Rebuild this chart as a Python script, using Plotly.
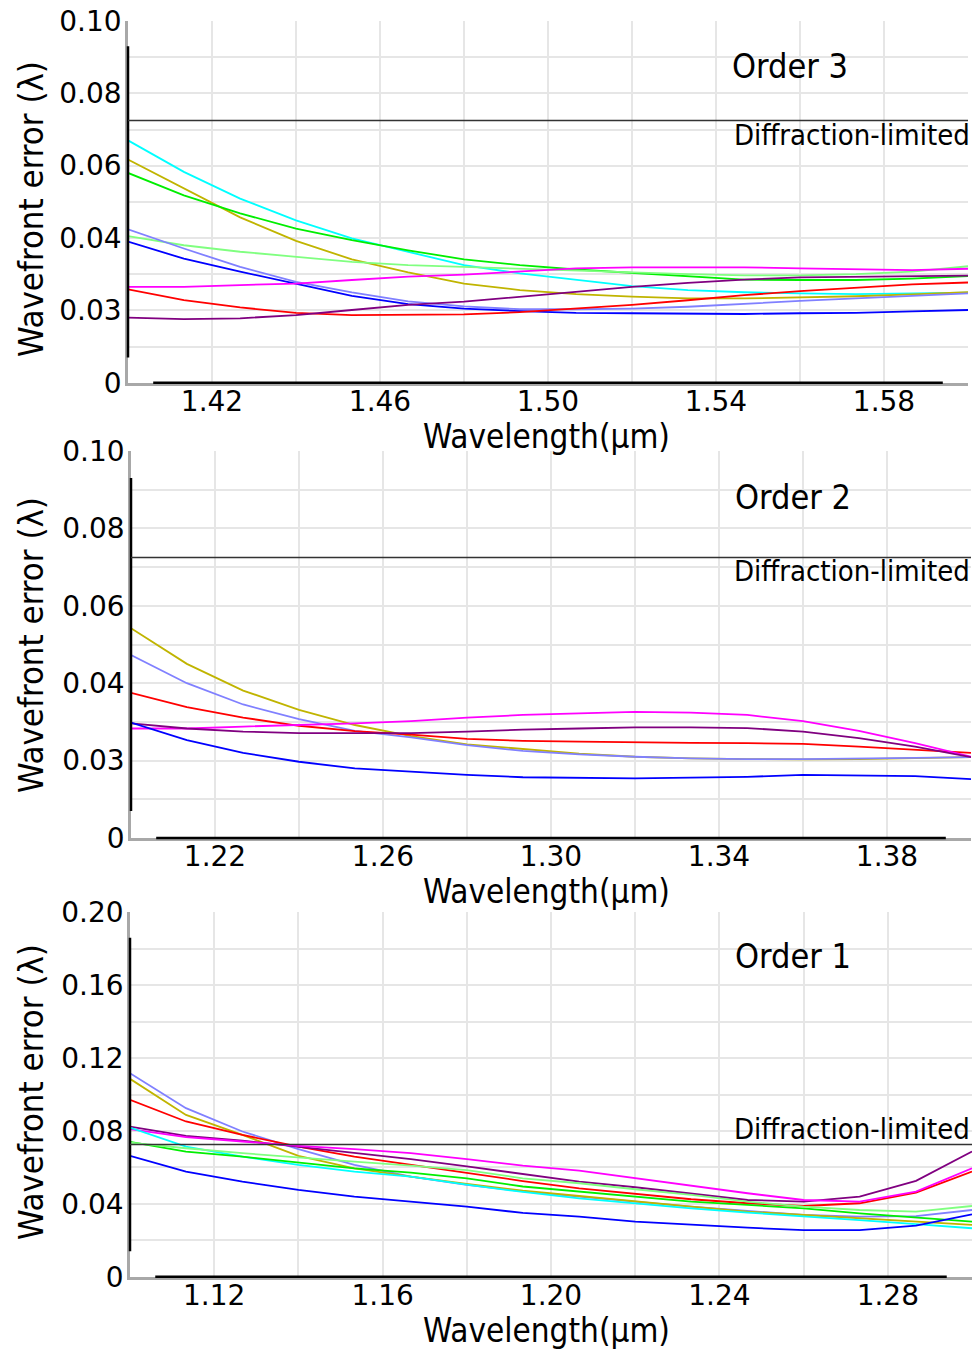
import plotly.graph_objects as go

# ---------------- data ----------------
DIFFRACTION_LIMIT = 0.0725

WL_ORDER3 = [1.4000, 1.4133, 1.4267, 1.4400, 1.4533, 1.4667, 1.4800, 1.4933,
             1.5067, 1.5200, 1.5333, 1.5467, 1.5600, 1.5733, 1.5867, 1.6000]
WL_ORDER2 = [1.2000, 1.2133, 1.2267, 1.2400, 1.2533, 1.2667, 1.2800, 1.2933,
             1.3067, 1.3200, 1.3333, 1.3467, 1.3600, 1.3733, 1.3867, 1.4000]
WL_ORDER1 = [1.1000, 1.1133, 1.1267, 1.1400, 1.1533, 1.1667, 1.1800, 1.1933,
             1.2067, 1.2200, 1.2333, 1.2467, 1.2600, 1.2733, 1.2867, 1.3000]

# Order 3 (values in the drawn axis units)
O3_CYAN = [0.0670, 0.0583, 0.0509, 0.0449, 0.0399, 0.0362, 0.0325, 0.0302,
           0.0284, 0.0267, 0.0256, 0.0250, 0.0247, 0.0245, 0.0247, 0.0249]
O3_OLIVE = [0.0617, 0.0537, 0.0457, 0.0392, 0.0341, 0.0305, 0.0274, 0.0256,
            0.0245, 0.0238, 0.0233, 0.0233, 0.0235, 0.0239, 0.0244, 0.0250]
O3_GREEN = [0.0580, 0.0518, 0.0468, 0.0426, 0.0394, 0.0366, 0.0341, 0.0325,
            0.0313, 0.0304, 0.0293, 0.0285, 0.0284, 0.0284, 0.0288, 0.0295]
O3_LIGHTGREEN = [0.0405, 0.0380, 0.0362, 0.0348, 0.0334, 0.0325, 0.0320, 0.0316,
                 0.0310, 0.0304, 0.0300, 0.0297, 0.0297, 0.0300, 0.0307, 0.0322]
O3_LIGHTBLUE = [0.0424, 0.0371, 0.0320, 0.0279, 0.0250, 0.0225, 0.0211, 0.0203,
                0.0203, 0.0205, 0.0210, 0.0217, 0.0226, 0.0233, 0.0240, 0.0247]
O3_BLUE = [0.0390, 0.0343, 0.0307, 0.0274, 0.0240, 0.0217, 0.0205, 0.0198,
           0.0193, 0.0192, 0.0190, 0.0190, 0.0192, 0.0193, 0.0197, 0.0201]
O3_MAGENTA = [0.0265, 0.0265, 0.0270, 0.0274, 0.0284, 0.0293, 0.0299, 0.0307,
              0.0316, 0.0319, 0.0320, 0.0319, 0.0316, 0.0313, 0.0311, 0.0315]
O3_RED = [0.0258, 0.0228, 0.0208, 0.0193, 0.0187, 0.0187, 0.0189, 0.0195,
          0.0205, 0.0215, 0.0228, 0.0242, 0.0253, 0.0263, 0.0272, 0.0277]
O3_PURPLE = [0.0180, 0.0176, 0.0178, 0.0187, 0.0201, 0.0215, 0.0224, 0.0238,
             0.0251, 0.0265, 0.0276, 0.0285, 0.0291, 0.0293, 0.0295, 0.0296]

# Order 2
O2_OLIVE = [0.0542, 0.0450, 0.0381, 0.0331, 0.0292, 0.0263, 0.0242, 0.0230,
            0.0218, 0.0210, 0.0206, 0.0204, 0.0203, 0.0204, 0.0206, 0.0209]
O2_LIGHTBLUE = [0.0473, 0.0400, 0.0345, 0.0307, 0.0277, 0.0260, 0.0240, 0.0225,
                0.0216, 0.0210, 0.0206, 0.0204, 0.0204, 0.0205, 0.0207, 0.0209]
O2_RED = [0.0375, 0.0338, 0.0311, 0.0290, 0.0276, 0.0267, 0.0256, 0.0251,
          0.0249, 0.0247, 0.0246, 0.0245, 0.0243, 0.0236, 0.0228, 0.0220]
O2_MAGENTA = [0.0283, 0.0283, 0.0288, 0.0292, 0.0296, 0.0302, 0.0311, 0.0318,
              0.0322, 0.0326, 0.0324, 0.0318, 0.0302, 0.0277, 0.0245, 0.0210]
O2_PURPLE = [0.0296, 0.0283, 0.0275, 0.0271, 0.0271, 0.0271, 0.0275, 0.0280,
             0.0283, 0.0286, 0.0286, 0.0284, 0.0275, 0.0258, 0.0236, 0.0209]
O2_BLUE = [0.0298, 0.0253, 0.0220, 0.0197, 0.0180, 0.0171, 0.0163, 0.0157,
           0.0155, 0.0154, 0.0156, 0.0158, 0.0163, 0.0162, 0.0160, 0.0152]

# Order 1
O1_LIGHTBLUE = [0.1117, 0.0925, 0.0797, 0.0700, 0.0614, 0.0549, 0.0504, 0.0468,
                0.0440, 0.0412, 0.0385, 0.0361, 0.0339, 0.0330, 0.0333, 0.0366]
O1_OLIVE = [0.1086, 0.0888, 0.0778, 0.0663, 0.0595, 0.0549, 0.0509, 0.0472,
            0.0443, 0.0412, 0.0385, 0.0357, 0.0339, 0.0321, 0.0302, 0.0284]
O1_RED = [0.0971, 0.0852, 0.0778, 0.0714, 0.0659, 0.0614, 0.0570, 0.0525,
          0.0485, 0.0454, 0.0425, 0.0403, 0.0388, 0.0403, 0.0462, 0.0577]
O1_PURPLE = [0.0824, 0.0773, 0.0747, 0.0714, 0.0678, 0.0645, 0.0605, 0.0562,
             0.0522, 0.0491, 0.0458, 0.0421, 0.0412, 0.0440, 0.0526, 0.0687]
O1_MAGENTA = [0.0810, 0.0766, 0.0742, 0.0718, 0.0700, 0.0678, 0.0645, 0.0610,
              0.0582, 0.0540, 0.0498, 0.0458, 0.0421, 0.0412, 0.0467, 0.0595]
O1_CYAN = [0.0819, 0.0714, 0.0659, 0.0614, 0.0577, 0.0549, 0.0505, 0.0465,
           0.0430, 0.0403, 0.0375, 0.0352, 0.0333, 0.0311, 0.0289, 0.0266]
O1_GREEN = [0.0740, 0.0687, 0.0659, 0.0626, 0.0595, 0.0571, 0.0540, 0.0495,
            0.0467, 0.0440, 0.0412, 0.0394, 0.0375, 0.0348, 0.0324, 0.0302]
O1_LIGHTGREEN = [0.0736, 0.0705, 0.0678, 0.0654, 0.0632, 0.0610, 0.0585, 0.0540,
                 0.0513, 0.0480, 0.0449, 0.0412, 0.0385, 0.0366, 0.0357, 0.0388]
O1_BLUE = [0.0663, 0.0577, 0.0522, 0.0476, 0.0440, 0.0412, 0.0385, 0.0350,
           0.0330, 0.0302, 0.0284, 0.0269, 0.0256, 0.0256, 0.0280, 0.0342]

# tick labels
XTICKS_O3 = [1.42, 1.46, 1.50, 1.54, 1.58]
XTICKS_O2 = [1.22, 1.26, 1.30, 1.34, 1.38]
XTICKS_O1 = [1.12, 1.16, 1.20, 1.24, 1.28]
YTICKVALS_O23 = [0, 0.02, 0.04, 0.06, 0.08, 0.10]
YTICKTEXT_O23 = ["0", "0.03", "0.04", "0.06", "0.08", "0.10"]
YTICKVALS_O1 = [0, 0.04, 0.08, 0.12, 0.16, 0.20]
YTICKTEXT_O1 = ["0", "0.04", "0.08", "0.12", "0.16", "0.20"]

COLORS = {
    "cyan": "#00ffff", "olive": "#c0b400", "green": "#00ee00",
    "lightgreen": "#80ff80", "lightblue": "#8080ff", "blue": "#0000ff",
    "magenta": "#ff00ff", "red": "#ff0000", "purple": "#800080",
}

W, H = 974, 1349
FONT = "DejaVu Sans"
TFONT = "DejaVu Sans Condensed, DejaVu Sans"

def px_x(p):
    return p / W

def px_y(p):
    return 1 - p / H

panels = [
    dict(n=1, xpx=(128, 968), ypx=(21, 382.7), xr=[1.40, 1.60], yr=[0, 0.10],
         xt=XTICKS_O3, yv=YTICKVALS_O23, yt=YTICKTEXT_O23, ym=0.01, wl=WL_ORDER3,
         series=[("cyan", O3_CYAN), ("olive", O3_OLIVE), ("green", O3_GREEN),
                 ("lightgreen", O3_LIGHTGREEN), ("lightblue", O3_LIGHTBLUE),
                 ("blue", O3_BLUE), ("magenta", O3_MAGENTA), ("red", O3_RED),
                 ("purple", O3_PURPLE)],
         label="Order 3", lx=730, ly=66, dy=135, xtitle_y=436, ytitle_c=209),
    dict(n=2, xpx=(131, 971), ypx=(451, 838), xr=[1.20, 1.40], yr=[0, 0.10],
         xt=XTICKS_O2, yv=YTICKVALS_O23, yt=YTICKTEXT_O23, ym=0.01, wl=WL_ORDER2,
         series=[("olive", O2_OLIVE), ("lightblue", O2_LIGHTBLUE), ("red", O2_RED),
                 ("magenta", O2_MAGENTA), ("purple", O2_PURPLE), ("blue", O2_BLUE)],
         label="Order 2", lx=733, ly=497, dy=571, xtitle_y=891, ytitle_c=645),
    dict(n=3, xpx=(130, 972), ypx=(912.3, 1276.7), xr=[1.10, 1.30], yr=[0, 0.20],
         xt=XTICKS_O1, yv=YTICKVALS_O1, yt=YTICKTEXT_O1, ym=0.02, wl=WL_ORDER1,
         series=[("lightblue", O1_LIGHTBLUE), ("olive", O1_OLIVE), ("red", O1_RED),
                 ("purple", O1_PURPLE), ("magenta", O1_MAGENTA), ("cyan", O1_CYAN),
                 ("green", O1_GREEN), ("lightgreen", O1_LIGHTGREEN), ("blue", O1_BLUE)],
         label="Order 1", lx=733, ly=956, dy=1129, xtitle_y=1330, ytitle_c=1092),
]

fig = go.Figure()
layout = dict(
    template="none",
    width=W, height=H, autosize=False, margin=dict(l=0, r=0, t=0, b=0, pad=0),
    paper_bgcolor="white", plot_bgcolor="white", showlegend=False,
    font=dict(family=FONT, color="black"),
)
shapes = []
annotations = []

for p in panels:
    n = p["n"]
    xa = "x" if n == 1 else f"x{n}"
    ya = "y" if n == 1 else f"y{n}"
    xkey = "xaxis" if n == 1 else f"xaxis{n}"
    ykey = "yaxis" if n == 1 else f"yaxis{n}"
    for cname, vals in p["series"]:
        fig.add_trace(go.Scatter(
            x=p["wl"], y=vals, mode="lines", xaxis=xa, yaxis=ya,
            line=dict(color=COLORS[cname], width=1.8), name=cname,
        ))
    layout[xkey] = dict(
        domain=[px_x(p["xpx"][0]), px_x(p["xpx"][1])], anchor=ya,
        automargin=False,
        range=p["xr"], tickvals=p["xt"], ticktext=[f"{v:.2f}" for v in p["xt"]],
        showgrid=True, gridcolor="#e6e6e6", gridwidth=2,
        minor=dict(dtick=0.02, tick0=p["xr"][0], showgrid=True,
                   gridcolor="#e6e6e6", gridwidth=2),
        showline=True, linecolor="#a8a8a8", linewidth=2.5, mirror=False,
        ticks="", zeroline=False, tickfont=dict(size=28, family=FONT, color="black"),
        ticklabelstandoff=-8,
    )
    layout[ykey] = dict(
        domain=[px_y(p["ypx"][1]), px_y(p["ypx"][0])], anchor=xa,
        automargin=False,
        range=p["yr"], tickvals=p["yv"], ticktext=p["yt"],
        showgrid=True, gridcolor="#e6e6e6", gridwidth=2,
        minor=dict(dtick=p["ym"], tick0=0, showgrid=True,
                   gridcolor="#e6e6e6", gridwidth=2),
        showline=True, linecolor="#a8a8a8", linewidth=2.5,
        ticks="", zeroline=False, tickfont=dict(size=28, family=FONT, color="black"),
        ticklabelstandoff=-2,
    )
    # darker central segments of the axis lines
    shapes.append(dict(type="line", xref=f"{xa} domain", yref=f"{ya} domain",
                       x0=0, x1=0, y0=0.07, y1=0.93,
                       line=dict(color="black", width=2.5)))
    shapes.append(dict(type="line", xref=f"{xa} domain", yref=f"{ya} domain",
                       x0=0.03, x1=0.97, y0=0, y1=0,
                       line=dict(color="black", width=2.5)))
    # diffraction limit
    shapes.append(dict(type="line", xref=f"{xa} domain", yref=ya,
                       x0=0, x1=1, y0=DIFFRACTION_LIMIT, y1=DIFFRACTION_LIMIT,
                       line=dict(color="#333333", width=1.5)))
    annotations.append(dict(text="Wavefront error (λ)", textangle=-90,
                            xref="paper", yref="paper", x=px_x(31), y=px_y(p["ytitle_c"]),
                            xanchor="center", yanchor="middle", showarrow=False,
                            font=dict(size=34.5, family=TFONT, color="black")))
    annotations.append(dict(text="Wavelength(μm)", xref="paper", yref="paper",
                            x=px_x(546), y=px_y(p["xtitle_y"]),
                            xanchor="center", yanchor="middle", showarrow=False,
                            font=dict(size=33, family=TFONT, color="black")))
    annotations.append(dict(text=p["label"], xref="paper", yref="paper",
                            x=px_x(p["lx"]), y=px_y(p["ly"]),
                            xanchor="left", yanchor="middle", showarrow=False,
                            font=dict(size=34, family=TFONT, color="black")))
    annotations.append(dict(text="Diffraction-limited", xref="paper", yref="paper",
                            x=px_x(972), y=px_y(p["dy"]),
                            xanchor="right", yanchor="middle", showarrow=False,
                            font=dict(size=29, family=TFONT, color="black")))

layout["shapes"] = shapes
layout["annotations"] = annotations
fig.update_layout(**layout)
fig.write_html("out.html", config={"displayModeBar": False},
               post_script="document.body.style.margin='0px';document.body.style.padding='0px';")
